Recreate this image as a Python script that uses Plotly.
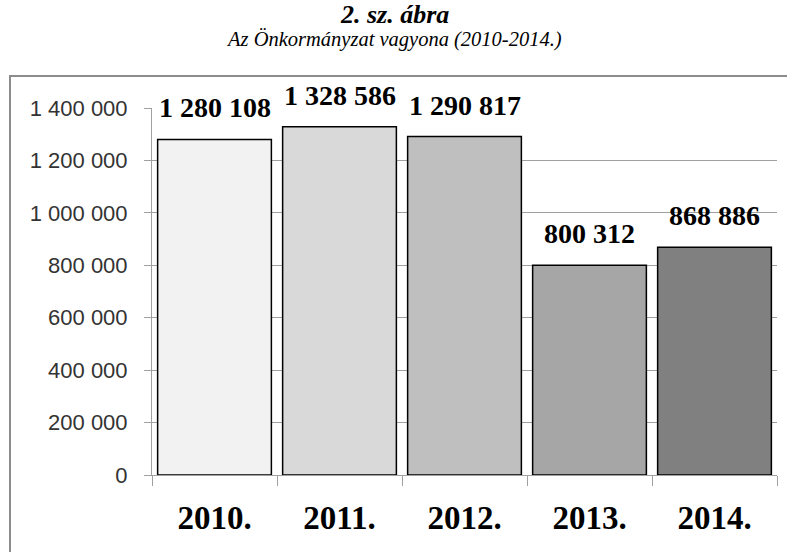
import plotly.graph_objects as go

years = ["2010.", "2011.", "2012.", "2013.", "2014."]
values = [1280108, 1328586, 1290817, 800312, 868886]
value_labels = ["1 280 108", "1 328 586", "1 290 817", "800 312", "868 886"]
bar_colors = ["#f2f2f2", "#d9d9d9", "#bfbfbf", "#a6a6a6", "#808080"]
y_ticks = [0, 200000, 400000, 600000, 800000, 1000000, 1200000, 1400000]
y_tick_labels = ["0", "200 000", "400 000", "600 000", "800 000", "1 000 000", "1 200 000", "1 400 000"]

W, H = 787, 552
ML = 152
MT = 108
MR = W - 777
MB = H - 475
PW, PH = W - ML - MR, H - MT - MB

fig = go.Figure()
fig.add_trace(go.Bar(
    x=years, y=values,
    marker=dict(color=bar_colors, line=dict(color="#000000", width=1.5)),
    hoverinfo="skip",
))

for i, (v, lab) in enumerate(zip(values, value_labels)):
    fig.add_annotation(x=i, y=v, text="<b>" + lab + "</b>", showarrow=False,
                       yanchor="bottom", yshift=14,
                       font=dict(family="Liberation Serif", size=28, color="#000000"))

def px(x):
    return (x - ML) / PW

def py(y):
    return (H - MB - y) / PH

fig.add_shape(type="rect", xref="paper", yref="paper",
              x0=px(10), x1=px(800), y0=py(76), y1=py(580),
              line=dict(color="#8c8c8c", width=2), fillcolor="rgba(0,0,0,0)", layer="below")

fig.add_annotation(xref="paper", yref="paper", x=px(394), y=py(14), yanchor="middle",
                   text="<b><i>2. sz. ábra</i></b>",
                   showarrow=False, font=dict(family="Liberation Serif", size=26, color="#000000"))
fig.add_annotation(xref="paper", yref="paper", x=px(394), y=py(39), yanchor="middle",
                   text="<i>Az Önkormányzat vagyona (2010-2014.)</i>",
                   showarrow=False, font=dict(family="Liberation Serif", size=20.5, color="#000000"))

fig.update_layout(
    width=W, height=H,
    margin=dict(l=ML, r=MR, t=MT, b=MB, autoexpand=False),
    paper_bgcolor="#ffffff", plot_bgcolor="#ffffff",
    showlegend=False, bargap=0.09,
    xaxis=dict(type="category", range=[-0.5, 4.5], tickson="boundaries", ticks="outside", ticklen=10,
               tickcolor="#a0a0a0", showgrid=False, showline=True, linecolor="#a0a0a0",
               tickfont=dict(family="Liberation Serif", size=33, color="#000000"),
               ticklabelstandoff=13, tickprefix="<b>", ticksuffix="</b>", tickangle=0),
    yaxis=dict(range=[0, 1400000], tickvals=y_ticks, ticktext=y_tick_labels,
               ticks="outside", ticklen=7, tickcolor="#a0a0a0",
               showgrid=True, gridcolor="#a0a0a0", gridwidth=1,
               showline=True, linecolor="#a0a0a0", zeroline=False,
               tickfont=dict(family="Liberation Sans", size=22, color="#333333"),
               ticklabelstandoff=12),
)

fig.write_html("out.html", config={"displayModeBar": False},
               post_script="document.body.style.margin='0';")
